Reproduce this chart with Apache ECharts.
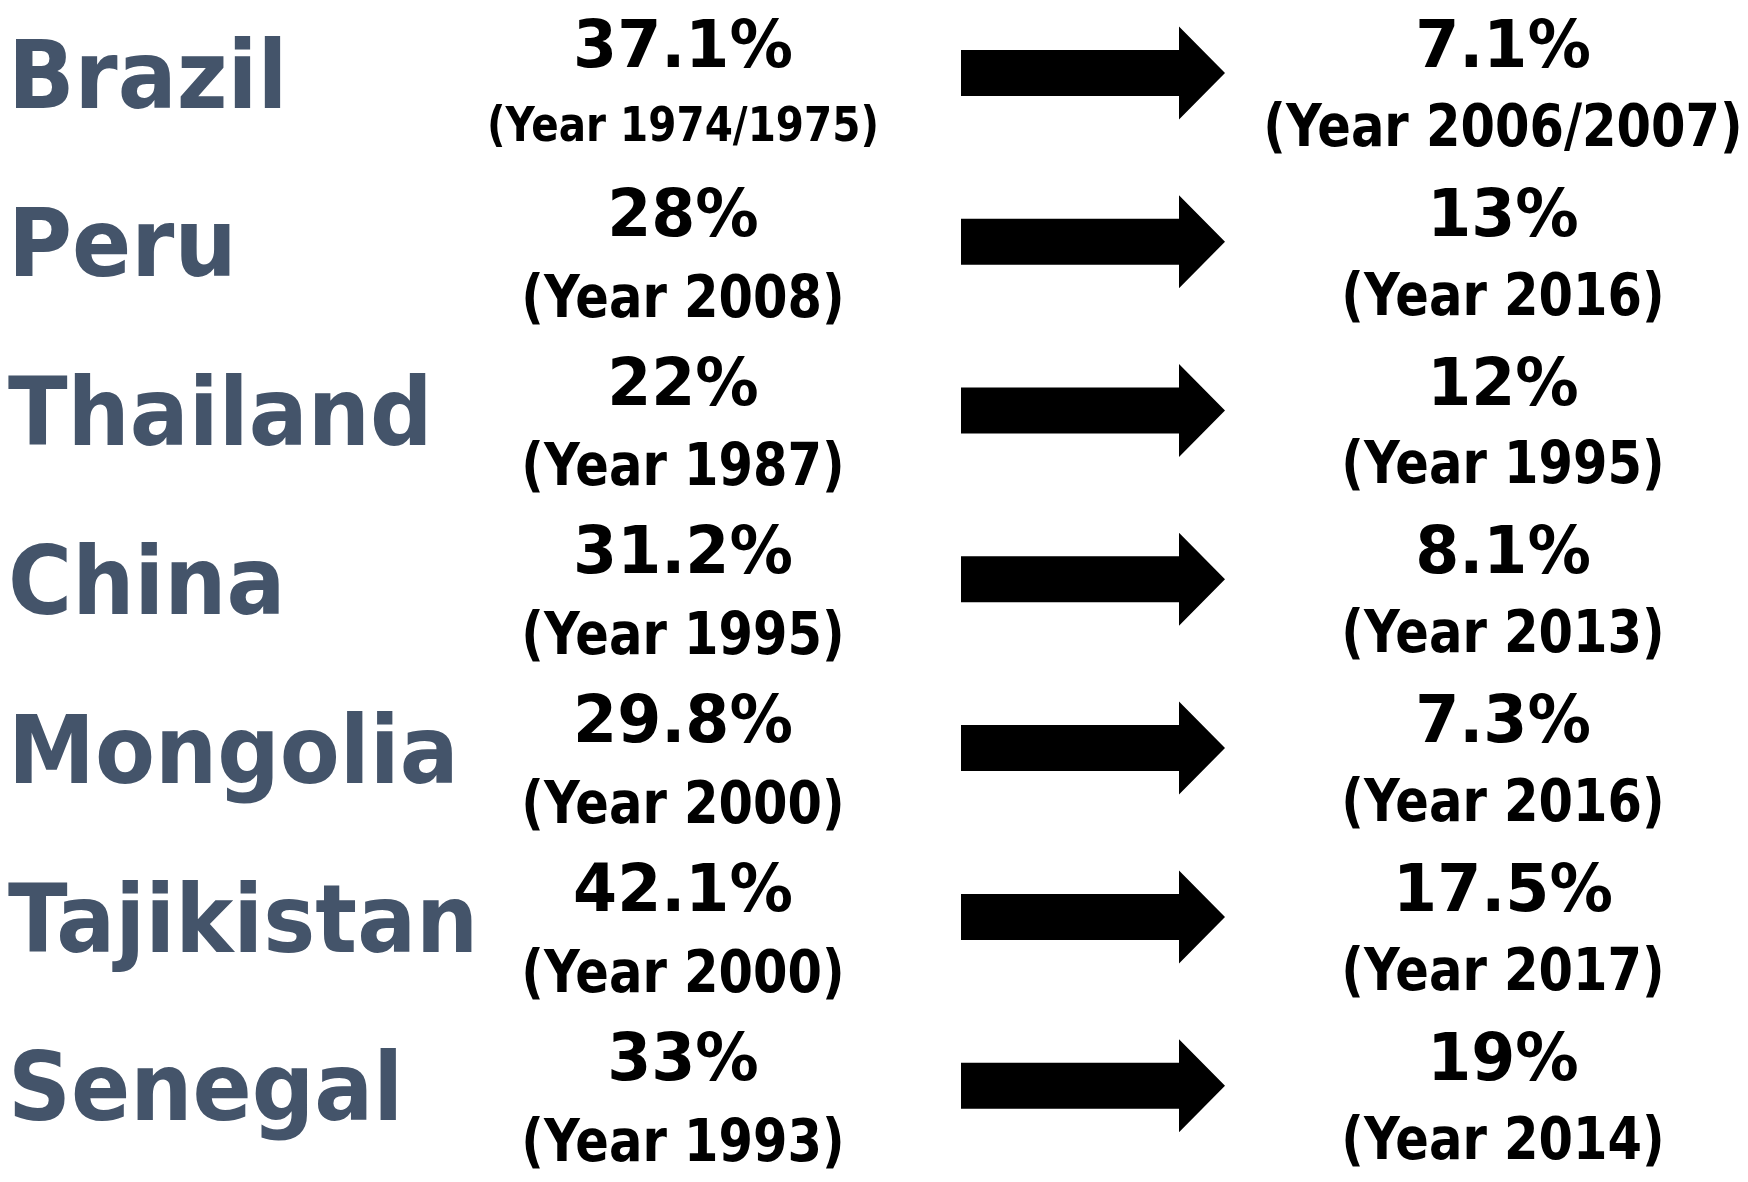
<!DOCTYPE html>
<html><head><meta charset="utf-8">
<script src="https://cdn.jsdelivr.net/npm/echarts@6/dist/echarts.min.js"></script>
<style>html,body{margin:0;padding:0;background:#fff}#c{width:1748px;height:1182px}</style>
</head><body><div id="c"></div>
<script>
// ---- data ----
const countries = ['Brazil', 'Peru', 'Thailand', 'China', 'Mongolia', 'Tajikistan', 'Senegal'];
const fromValues = [37.1, 28, 22, 31.2, 29.8, 42.1, 33];
const fromYears = ['1974/1975', '2008', '1987', '1995', '2000', '2000', '1993'];
const toValues = [7.1, 13, 12, 8.1, 7.3, 17.5, 19];
const toYears = ['2006/2007', '2016', '1995', '2013', '2016', '2017', '2014'];

// ---- styles / layout ----
const FONT = '"DejaVu Sans", Verdana, sans-serif';
const COUNTRY_COLOR = '#44546A';
const measureCtx = document.createElement('canvas').getContext('2d');
function textWidth(t, size) {
  measureCtx.font = 'bold ' + size + 'px ' + FONT;
  return measureCtx.measureText(t).width;
}
const YEAR_SCALE = 0.84, YEAR_SIZE = 59;
function yearSize(t, maxW) {
  const w = textWidth(t, YEAR_SIZE) * YEAR_SCALE;
  return w > maxW ? YEAR_SIZE * maxW / w : YEAR_SIZE;
}
const cap = 0.729;

const chart = echarts.init(document.getElementById('c'), null, {renderer: 'canvas'});
chart.setOption({
  backgroundColor: '#ffffff',
  animation: false,
  grid: {left: 0, right: 0, top: 72.9, height: 1012.8},
  xAxis: {type: 'value', min: 0, max: 1748, show: false},
  yAxis: {type: 'category', data: countries, inverse: true, boundaryGap: false, show: false},
  series: [{
    type: 'custom',
    data: countries.map((c, i) => [0, i]),
    renderItem: function (params, api) {
      const i = params.dataIndex;
      const cy = api.coord([0, api.value(1)])[1];
      const X = v => api.coord([v, api.value(1)])[0];
      const children = [];
      // country name
      children.push({type: 'text', x: X(8), y: cy + 10, scaleX: 0.92,
        style: {text: countries[i], fontSize: 95, fontWeight: 'bold', fontFamily: FONT,
          fill: COUNTRY_COLOR, align: 'left', verticalAlign: 'middle'}});
      const fromCx = X(683), toCx = X(1503);
      // starting value
      children.push({type: 'text', x: fromCx, y: cy - 23, scaleX: 0.96,
        style: {text: fromValues[i] + '%', fontSize: 66, fontWeight: 'bold', fontFamily: FONT,
          fill: '#000', align: 'center', verticalAlign: 'middle'}});
      const fyT = '(Year ' + fromYears[i] + ')';
      const fs1 = yearSize(fyT, 392);
      children.push({type: 'text', x: fromCx, y: cy + 38 + cap * fs1 / 2, scaleX: YEAR_SCALE,
        style: {text: fyT, fontSize: fs1, fontWeight: 'bold', fontFamily: FONT,
          fill: '#000', align: 'center', verticalAlign: 'middle'}});
      // later value
      children.push({type: 'text', x: toCx, y: cy - 23, scaleX: 0.96,
        style: {text: toValues[i] + '%', fontSize: 66, fontWeight: 'bold', fontFamily: FONT,
          fill: '#000', align: 'center', verticalAlign: 'middle'}});
      const tyT = '(Year ' + toYears[i] + ')';
      const fs2 = yearSize(tyT, 490);
      children.push({type: 'text', x: toCx, y: cy + 36 + cap * fs2 / 2, scaleX: YEAR_SCALE,
        style: {text: tyT, fontSize: fs2, fontWeight: 'bold', fontFamily: FONT,
          fill: '#000', align: 'center', verticalAlign: 'middle'}});
      // arrow
      const x0 = X(961), xh = X(1179), xt = X(1225);
      children.push({type: 'polygon',
        shape: {points: [[x0, cy - 23], [xh, cy - 23], [xh, cy - 46.5], [xt, cy],
          [xh, cy + 46.5], [xh, cy + 23], [x0, cy + 23]]},
        style: {fill: '#000'}});
      return {type: 'group', children: children};
    }
  }]
});
</script></body></html>
